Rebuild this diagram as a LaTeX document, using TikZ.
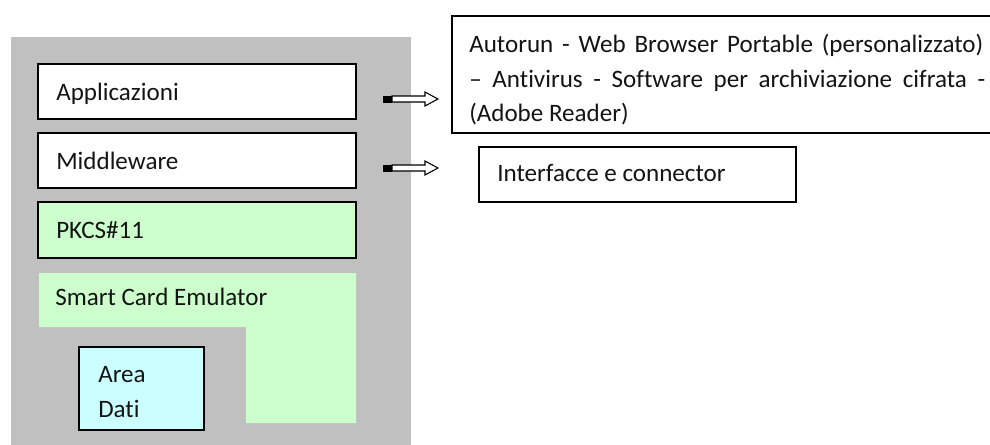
\documentclass[tikz,border=0pt]{standalone}
\usepackage{fontspec}
\setmainfont{Carlito}[Ligatures={NoCommon}]
\usetikzlibrary{fit}
\definecolor{graybg}{RGB}{192,192,192}
\definecolor{lgreen}{RGB}{204,255,204}
\definecolor{lcyan}{RGB}{204,255,255}
\definecolor{ink}{RGB}{20,20,20}
\tikzset{
  box/.style={draw=black, line width=1pt, inner sep=0pt},
  lbl/.style={anchor=base west, inner sep=0pt, text=ink, font=\fontsize{18.8pt}{26pt}\selectfont},
  hollow/.style={draw=black, line width=0.8pt, fill=white},
}
\begin{document}
\begin{tikzpicture}[x=0.75pt,y=-0.75pt]
\useasboundingbox (0,0) rectangle (990,444);
\begin{scope}
\clip (0,0) rectangle (990,444);
% gray container
\fill[graybg] (11,37) rectangle (411,450);
% layers
\node[box, fill=white, fit={(38,64) (356,119)}] (app) {};
\node[box, fill=white, fit={(38,133) (356,188)}] (mid) {};
\node[box, fill=lgreen, fit={(38,202) (356,258)}] (pkcs) {};
\fill[lgreen] (39,273) -- (356,273) -- (356,423) -- (246,423) -- (246,327) -- (39,327) -- cycle;
\node[box, fill=lcyan, fit={(79,347) (204,430)}] (area) {};
% text boxes
\node[box, fill=white, fit={(452,16) (1000,133)}] (auto) {};
\node[box, fill=white, fit={(479,147) (796,202)}] (intf) {};
\end{scope}
% labels
\node[lbl] (tapp) at (56,100) {Applicazioni};
\node[lbl] (tmid) at (56,169) {Middleware};
\node[lbl] (tpk) at (56,238) {PKCS\#11};
\node[lbl] (tsc) at (55,305) {Smart Card Emulator};
\node[lbl] (tar) at (98,382) {Area};
\node[lbl] (tda) at (98,417) {Dati};
\node[lbl] (l1) at (469,52) {\makebox[514\dimexpr 0.75pt\relax][s]{Autorun - Web Browser Portable (personalizzato)}};
\node[lbl] (l2) at (469,87) {\makebox[516\dimexpr 0.75pt\relax][s]{– Antivirus - Software per archiviazione cifrata -}};
\node[lbl] (l3) at (469,121) {(Adobe Reader)};
\node[lbl] (tif) at (497,181) {Interfacce e connector};
% arrows
\coordinate (a1) at (383,99);
\coordinate (a2) at (383,168);
\foreach \c in {a1,a2}{
  \fill[black] ([yshift=-3.5*0.75pt]\c) rectangle ([xshift=9*0.75pt,yshift=3.5*0.75pt]\c);
  \draw[hollow] ([xshift=9*0.75pt,yshift=-3*0.75pt]\c)
    -- ([xshift=42*0.75pt,yshift=-3*0.75pt]\c)
    -- ([xshift=42*0.75pt,yshift=-7*0.75pt]\c)
    -- ([xshift=55*0.75pt]\c)
    -- ([xshift=42*0.75pt,yshift=7*0.75pt]\c)
    -- ([xshift=42*0.75pt,yshift=3*0.75pt]\c)
    -- ([xshift=9*0.75pt,yshift=3*0.75pt]\c) -- cycle;
}
\end{tikzpicture}
\end{document}
